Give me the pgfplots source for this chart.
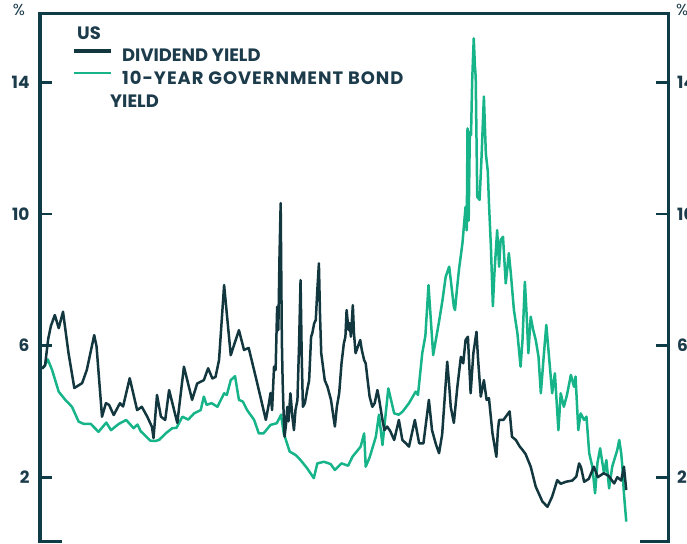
\documentclass[border=0pt]{standalone}
\usepackage{fontspec}
\setmainfont{Poppins}
\usepackage{pgfplots}
\pgfplotsset{compat=1.18}
\usetikzlibrary{calc}
\definecolor{dk}{HTML}{12373F}
\definecolor{gr}{HTML}{17B48A}
\definecolor{axc}{HTML}{0F3D47}
\definecolor{txt}{HTML}{1C3B4B}
\begin{document}
\begin{tikzpicture}
\begin{axis}[
  scale only axis, width=628bp, height=529bp,
  xmin=1870.5, xmax=2031.5, ymin=0, ymax=16.08,
  axis line style={draw=none},
  clip=false,
  xtick=\empty,
  ytick={2,6,10,14},
  yticklabel pos=left,
  tick align=inside, major tick length=12bp,
  every tick/.style={axc, line width=2.6bp},
  /pgf/number format/assume math mode=true,
  y tick label style={font=\bfseries\fontsize{17}{17}\selectfont, text=txt, xshift=-7bp},
]
\addplot[gr, line width=2.5bp, line join=round] coordinates {
(1871.0,5.31) (1871.6,5.36) (1872.5,5.58) (1873.6,5.26) (1875.3,4.60) (1877.0,4.35)
(1878.7,4.14) (1880.4,3.69) (1881.7,3.62) (1883.5,3.62) (1885.5,3.38) (1887.5,3.66)
(1888.7,3.43) (1890.7,3.62) (1892.6,3.74) (1894.5,3.49) (1895.5,3.60) (1896.3,3.40)
(1898.8,3.11) (1900.0,3.10) (1901.0,3.13) (1902.7,3.33) (1904.4,3.49) (1905.5,3.50)
(1907.0,3.84) (1908.5,3.75) (1910.0,3.94) (1911.7,4.04) (1912.5,4.45) (1913.2,4.20)
(1914.5,4.25) (1916.0,4.14) (1917.7,4.55) (1918.4,4.50) (1919.4,4.95) (1920.5,5.07)
(1921.5,4.35) (1922.5,4.30) (1923.6,4.04) (1925.4,3.74) (1926.6,3.33) (1927.8,3.33)
(1929.6,3.59) (1931.2,3.64) (1932.3,3.90) (1933.0,3.33) (1934.5,2.78) (1936.1,2.67)
(1937.3,2.52) (1939.0,2.27) (1940.7,1.97) (1941.6,2.42) (1943.3,2.47) (1945.0,2.40)
(1946.1,2.22) (1947.8,2.42) (1949.5,2.35) (1950.6,2.62) (1952.7,2.93) (1953.6,3.33)
(1954.0,2.32) (1955.0,2.60) (1956.6,3.23) (1957.4,3.90) (1958.3,2.98) (1959.8,4.70)
(1961.3,3.94) (1962.5,3.90) (1963.5,4.00) (1965.1,4.25) (1966.8,4.60) (1967.4,4.50)
(1968.5,5.77) (1969.3,6.30) (1970.1,7.84) (1971.3,5.71) (1972.8,6.73) (1973.7,7.39)
(1974.5,8.09) (1975.4,8.40) (1975.9,7.90) (1976.6,7.18) (1976.9,7.08) (1977.3,7.60)
(1977.9,8.30) (1978.8,9.11) (1979.6,10.22) (1979.9,9.50) (1980.1,12.60) (1980.4,9.80)
(1980.7,12.50) (1981.0,12.40) (1981.3,14.07) (1981.7,15.34) (1982.0,14.50) (1982.2,14.17)
(1982.6,10.52) (1983.2,10.43) (1983.7,11.74) (1984.3,13.57) (1984.8,11.84) (1985.3,11.30)
(1985.6,10.33) (1986.1,9.00) (1986.6,7.20) (1987.0,8.20) (1987.7,9.51) (1988.2,8.40)
(1988.6,9.21) (1989.2,9.31) (1989.9,7.89) (1990.7,8.81) (1991.2,8.20) (1992.0,7.08)
(1992.9,6.37) (1993.7,5.36) (1994.2,6.17) (1994.8,7.94) (1995.2,7.08) (1995.7,5.77)
(1996.3,6.88) (1996.9,6.50) (1997.6,6.17) (1998.3,5.66) (1998.9,4.55) (1999.7,5.77)
(2000.3,6.63) (2001.0,5.66) (2001.8,4.55) (2002.5,5.16) (2003.4,3.43) (2004.0,4.55)
(2004.8,4.14) (2005.6,4.50) (2006.6,5.11) (2007.4,4.75) (2007.8,5.06) (2008.5,3.43)
(2009.1,3.94) (2010.0,3.74) (2010.6,3.84) (2011.3,2.73) (2012.1,2.32) (2012.8,1.51)
(2013.4,2.42) (2014.1,2.88) (2014.6,2.50) (2015.1,2.12) (2015.7,2.52) (2016.4,1.66)
(2017.2,2.32) (2017.7,2.52) (2018.5,2.83) (2019.0,3.13) (2019.5,2.73) (2019.8,2.32)
(2020.2,1.51) (2020.8,0.65)
};
\addplot[dk, line width=2.5bp, line join=round] coordinates {
(1871.0,5.30) (1871.8,5.40) (1872.6,6.20) (1873.3,6.60) (1874.3,6.93) (1875.3,6.53)
(1876.4,7.03) (1877.8,5.78) (1879.3,4.71) (1881.3,4.86) (1882.5,5.26) (1884.4,6.32)
(1885.0,5.97) (1886.4,3.84) (1887.4,4.25) (1888.2,4.20) (1889.4,3.89) (1891.0,4.25)
(1891.8,4.15) (1893.5,5.01) (1895.4,4.04) (1896.6,4.14) (1898.0,3.84) (1899.2,3.53)
(1899.6,3.19) (1900.5,4.50) (1901.5,3.84) (1902.6,3.74) (1903.6,4.65) (1905.7,3.65)
(1907.4,5.36) (1909.5,4.35) (1910.8,4.85) (1912.5,4.95) (1913.6,5.31) (1914.7,5.00)
(1915.5,5.05) (1916.4,5.56) (1917.7,7.84) (1919.4,5.71) (1921.5,6.47) (1922.8,5.87)
(1924.0,5.93) (1925.8,5.05) (1927.0,4.45) (1928.4,3.74) (1929.2,4.25) (1929.6,4.56)
(1930.0,4.04) (1930.5,5.36) (1930.9,5.26) (1931.3,7.18) (1931.6,6.47) (1931.9,8.70)
(1932.2,10.33) (1932.5,6.17) (1932.7,4.95) (1932.9,4.14) (1933.2,3.23) (1933.6,3.64)
(1933.9,4.14) (1934.2,3.70) (1934.7,4.55) (1935.2,3.84) (1935.6,3.43) (1936.0,4.04)
(1936.5,4.35) (1936.9,5.97) (1937.3,7.99) (1937.6,5.66) (1937.9,4.14) (1938.4,4.25)
(1939.0,4.65) (1939.5,4.95) (1940.0,6.27) (1940.3,6.37) (1940.8,6.68) (1941.2,6.78)
(1941.6,7.69) (1942.0,8.50) (1942.3,6.88) (1942.6,5.77) (1943.5,4.95) (1944.2,4.75)
(1945.1,4.35) (1946.1,3.54) (1946.6,4.14) (1947.2,4.55) (1947.8,5.46) (1948.4,6.07)
(1948.8,6.27) (1949.1,7.08) (1949.6,6.47) (1949.9,6.68) (1950.2,6.27) (1950.7,7.23)
(1951.0,6.37) (1951.4,5.77) (1952.6,6.17) (1953.0,5.87) (1953.6,5.56) (1954.0,5.46)
(1954.4,5.05) (1955.0,4.45) (1955.7,4.14) (1956.3,4.25) (1957.0,4.65) (1957.4,4.40)
(1958.3,3.74) (1958.8,3.43) (1959.5,3.54) (1960.3,3.40) (1961.3,3.13) (1962.5,3.74)
(1963.4,3.13) (1964.3,3.03) (1965.1,2.93) (1966.6,3.74) (1967.7,3.03) (1968.8,3.03)
(1970.2,4.35) (1971.0,3.43) (1972.0,3.00) (1972.8,2.73) (1973.6,3.30) (1974.9,5.51)
(1975.4,4.80) (1975.8,4.14) (1976.6,3.65) (1977.5,4.75) (1978.4,5.66) (1979.0,5.46)
(1979.6,6.17) (1980.2,6.27) (1980.9,4.55) (1981.6,5.77) (1982.4,6.42) (1982.8,5.60)
(1983.5,4.45) (1984.3,4.95) (1985.0,4.35) (1985.6,4.40) (1986.5,3.33) (1987.5,2.62)
(1987.9,3.43) (1988.2,3.74) (1989.3,3.74) (1990.9,4.00) (1991.5,3.23) (1992.5,3.13)
(1993.5,2.93) (1994.2,2.83) (1995.0,2.70) (1996.3,2.32) (1997.6,1.71) (1999.3,1.26)
(2000.6,1.10) (2001.8,1.41) (2003.1,1.91) (2004.0,1.80) (2005.3,1.86) (2007.0,1.90)
(2008.0,2.02) (2008.7,2.42) (2009.2,2.30) (2010.0,1.86) (2011.2,1.95) (2012.5,2.32)
(2013.5,2.00) (2015.0,2.12) (2016.2,2.05) (2017.7,1.81) (2018.5,2.00) (2019.5,1.90)
(2020.2,2.32) (2020.8,1.61)
};
\coordinate (bl) at (rel axis cs:0,0);
\coordinate (br) at (rel axis cs:1,0);
\coordinate (tl) at (rel axis cs:0,1);
\coordinate (tr) at (rel axis cs:1,1);
\coordinate (r2) at (axis cs:2031.5,2);
\coordinate (r6) at (axis cs:2031.5,6);
\coordinate (r10) at (axis cs:2031.5,10);
\coordinate (r14) at (axis cs:2031.5,14);
\end{axis}
% frame
\draw[axc, line width=3bp, line join=miter] (bl) -- (tl) -- (tr) -- (br);
\draw[axc, line width=3bp] ($(bl)+(0,1.5bp)$) -- ++(22bp,0);
\draw[axc, line width=3bp] ($(br)+(0,1.5bp)$) -- ++(-28bp,0);
% right tick labels (cut off at the edge, as in the reference)
\node[anchor=west, inner sep=0pt, font=\bfseries\fontsize{17}{17}\selectfont, text=txt] at ($(r2)+(9bp,0)$) {2};
\node[anchor=west, inner sep=0pt, font=\bfseries\fontsize{17}{17}\selectfont, text=txt] at ($(r6)+(9bp,0)$) {6};
\node[anchor=west, inner sep=0pt, font=\bfseries\fontsize{17}{17}\selectfont, text=txt] at ($(r10)+(9bp,0)$) {10};
\node[anchor=west, inner sep=0pt, font=\bfseries\fontsize{17}{17}\selectfont, text=txt] at ($(r14)+(9bp,0)$) {14};
% percent signs
\node[inner sep=0pt, font=\fontsize{16}{16}\selectfont, text=txt] at ($(tl)+(-21bp,4bp)$) {\%};
\node[anchor=west, inner sep=0pt, font=\fontsize{16}{16}\selectfont, text=txt] at ($(tr)+(8bp,4bp)$) {\%};
% legend
\node[anchor=base west, inner sep=0pt, font=\bfseries\fontsize{18}{18}\selectfont, text=txt] at ($(tl)+(37bp,-26bp)$) {US};
\draw[dk, line width=3.4bp] ($(tl)+(34bp,-37bp)$) -- ++(37bp,0);
\draw[gr, line width=2.4bp] ($(tl)+(34bp,-59bp)$) -- ++(37bp,0);
\node[anchor=base west, inner sep=0pt, font=\bfseries\fontsize{18}{18}\selectfont, text=txt] at ($(tl)+(82bp,-48bp)$) {DIVIDEND YIELD};
\node[anchor=base west, inner sep=0pt, font=\bfseries\fontsize{18}{18}\selectfont\addfontfeature{LetterSpace=5.5}, text=txt] at ($(tl)+(82bp,-71bp)$) {10-YEAR GOVERNMENT BOND};
\node[anchor=base west, inner sep=0pt, font=\bfseries\fontsize{18}{18}\selectfont, text=txt] at ($(tl)+(70bp,-94bp)$) {YIELD};
\pgfresetboundingbox
\path[use as bounding box] ($(bl)+(-40bp,-1bp)$) rectangle ($(tr)+(19bp,14bp)$);
\end{tikzpicture}
\end{document}
